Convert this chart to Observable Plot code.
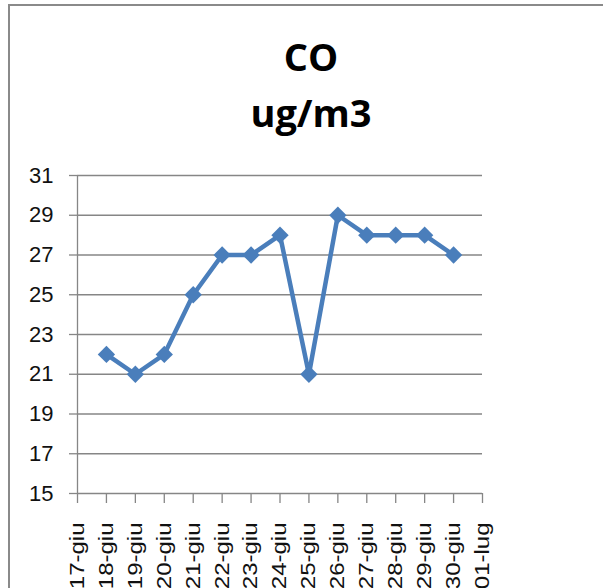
<!DOCTYPE html>
<html>
<head>
<meta charset="utf-8">
<script src="https://cdn.jsdelivr.net/npm/d3@7"></script>
<script src="https://cdn.jsdelivr.net/npm/@observablehq/plot@0.6"></script>
<style>
  html, body { margin: 0; padding: 0; background: #fff; }
  #wrap { position: relative; width: 603px; height: 588px; overflow: hidden; background: #fff; }
  #frame { position: absolute; left: 8px; top: 4px; width: 620px; height: 620px; border: 2.5px solid #8a8a8a; box-sizing: border-box; }
  .title { position: absolute; left: 0; width: 622px; text-align: center; font-family: "Open Sans", sans-serif; font-weight: 700; font-size: 38px; color: #000; line-height: 1; }
  #chart { position: absolute; left: 0; top: 0; }
</style>
</head>
<body>
<div id="wrap">
  <div id="frame"></div>
  <div class="title" id="t1" style="top:37px">CO</div>
  <div class="title" id="t2" style="top:93px">ug/m3</div>
  <div id="chart"></div>
</div>
<script>
const categories = ["17-giu","18-giu","19-giu","20-giu","21-giu","22-giu","23-giu","24-giu","25-giu","26-giu","27-giu","28-giu","29-giu","30-giu","01-lug"];
const dates = ["18-giu","19-giu","20-giu","21-giu","22-giu","23-giu","24-giu","25-giu","26-giu","27-giu","28-giu","29-giu","30-giu"];
const values = [22, 21, 22, 25, 27, 27, 28, 21, 29, 28, 28, 28, 27];
const yTicks = [15, 17, 19, 21, 23, 25, 27, 29, 31];

const data = dates.map((d, i) => ({date: d, value: values[i]}));
const gray = "#868686";
const blue = "#4a7ebb";

const chart = Plot.plot({
  width: 603,
  height: 588,
  marginLeft: 77,
  marginRight: 121,
  marginTop: 175,
  marginBottom: 95,
  style: {background: "transparent", overflow: "visible"},
  x: {type: "point", domain: categories, padding: 0, round: false, label: null},
  y: {domain: [15, 31], label: null},
  marks: [
    Plot.ruleY(yTicks, {stroke: gray, strokeWidth: 1.3}),
    Plot.ruleX([categories[0]], {y1: 15, y2: 31, stroke: gray, strokeWidth: 1.3}),
    Plot.axisY({ticks: yTicks, tickSize: 8, tickPadding: 16, stroke: gray, strokeWidth: 1.3, fill: "#111", fontSize: 22, fontFamily: "Liberation Sans, Arial, sans-serif", label: null}),
    Plot.axisX({tickSize: 10, tickPadding: 19, tickRotate: -90, stroke: gray, strokeWidth: 1.3, fill: "#111", fontSize: 20, fontFamily: "Liberation Sans, Arial, sans-serif", label: null}),
    Plot.line(data, {x: "date", y: "value", stroke: blue, strokeWidth: 4.5, strokeLinejoin: "round"}),
    Plot.dot(data, {x: "date", y: "value", symbol: "diamond2", r: 7.8, fill: blue, stroke: "none"})
  ]
});
document.getElementById("chart").appendChild(chart);
chart.querySelectorAll('g[aria-label="x-axis tick label"] text').forEach(t => {
  const tr = t.getAttribute("transform") || "";
  t.setAttribute("transform", tr + " scale(1.2,1)");
});
</script>
</body>
</html>
